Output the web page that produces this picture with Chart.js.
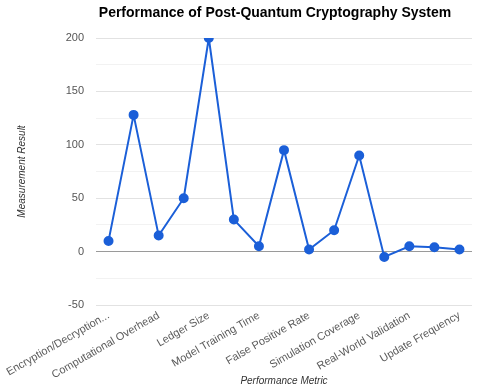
<!DOCTYPE html>
<html>
<head>
<meta charset="utf-8">
<script src="https://cdn.jsdelivr.net/npm/chart.js@4"></script>
<style>
  html, body { margin: 0; padding: 0; background: #fff; }
  #wrap { width: 480px; height: 389px; }
</style>
</head>
<body>
<div id="wrap"><canvas id="chart"></canvas></div>
<script>
// data
var metrics = [
  "Encryption/Decryption Speed", "Key Generation Time", "Computational Overhead",
  "Signature Size", "Ledger Size", "Transaction Throughput", "Model Training Time",
  "Detection Accuracy", "False Positive Rate", "Attack Resistance",
  "Simulation Coverage", "Error Margin", "Real-World Validation",
  "Deployment Cost", "Update Frequency"
];
var results = [10, 128, 15, 50, 200, 30, 5, 95, 2, 20, 90, -5, 5, 4, 2];
var yTicks = [-50, 0, 50, 100, 150, 200];

var titleText = "Performance of Post-Quantum Cryptography System";
var blue = "#1b5fd8";
var font = "'Liberation Sans', Arial, sans-serif";

// title drawn off-centre like the source
var titlePlugin = {
  id: "titleText",
  afterDraw: function (chart) {
    var c = chart.ctx;
    c.save();
    c.font = "bold 14px " + font;
    c.fillStyle = "#000";
    c.textAlign = "center";
    c.textBaseline = "middle";
    c.fillText(titleText, 275, 13);
    c.restore();
  }
};

var ctx = document.getElementById("chart").getContext("2d");
new Chart(ctx, {
  type: "line",
  data: {
    labels: metrics,
    datasets: [{
      label: "Measurement Result",
      data: results,
      borderColor: blue,
      backgroundColor: blue,
      borderWidth: 2,
      pointRadius: 4,
      pointHoverRadius: 4,
      tension: 0,
      fill: false
    }]
  },
  plugins: [titlePlugin],
  options: {
    responsive: true,
    maintainAspectRatio: false,
    animation: false,
    layout: { padding: { left: 0, right: 8, top: 38, bottom: 0 } },
    plugins: {
      legend: { display: false },
      tooltip: { enabled: false }
    },
    scales: {
      x: {
        offset: true,
        grid: { display: false, drawTicks: false },
        border: { display: false },
        ticks: {
          autoSkip: false,
          minRotation: 30,
          maxRotation: 30,
          padding: 4,
          color: "#5c5c5c",
          font: { family: font, size: 11 },
          callback: function (v, i) {
            if (i % 2) return "";
            var s = metrics[i];
            return s.length > 24 ? s.slice(0, 21) + "..." : s;
          }
        },
        title: {
          display: true,
          text: "Performance Metric",
          color: "#333",
          padding: { top: 0, bottom: 2 },
          font: { family: font, size: 10, style: "italic" }
        },
        afterFit: function (s) { s.height = 84; }
      },
      y: {
        min: -50,
        max: 200,
        grid: {
          drawTicks: false,
          lineWidth: 1,
          color: function (c) {
            var v = c.tick.value;
            if (v === 0) return "#9a9a9a";
            if (yTicks.indexOf(v) >= 0) return "#e2e2e2";
            return "#f2f2f2";
          }
        },
        border: { display: false },
        ticks: {
          stepSize: 25,
          padding: 12,
          color: "#555",
          font: { family: font, size: 11 },
          callback: function (v) { return yTicks.indexOf(v) >= 0 ? v : ""; }
        },
        title: {
          display: true,
          text: "Measurement Result",
          color: "#333",
          padding: { top: 16, bottom: 0 },
          font: { family: font, size: 10, style: "italic" }
        },
        afterFit: function (s) { s.width = 96; }
      }
    }
  }
});
</script>
</body>
</html>
